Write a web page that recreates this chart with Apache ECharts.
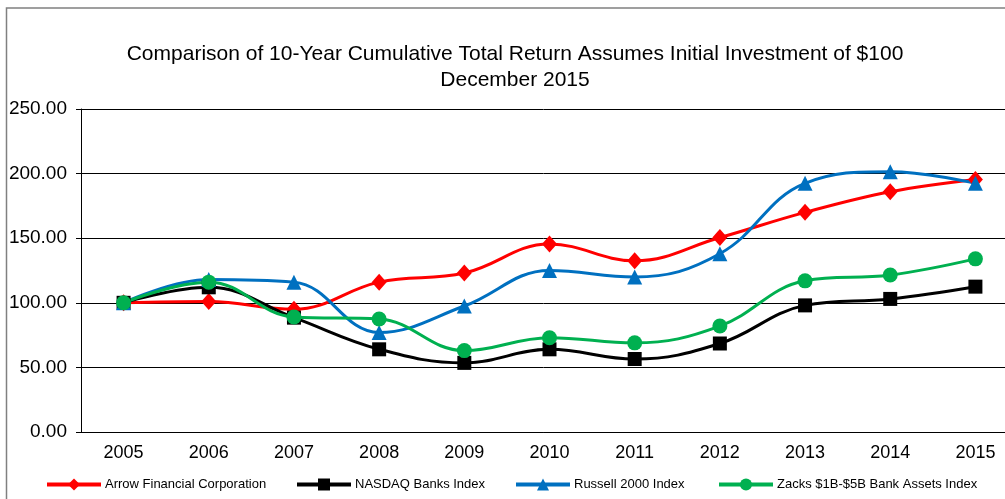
<!DOCTYPE html>
<html>
<head>
<meta charset="utf-8">
<script src="https://cdn.jsdelivr.net/npm/echarts@6/dist/echarts.min.js"></script>
<style>
  html, body { margin: 0; padding: 0; background: #fff; }
  #chart { width: 1005px; height: 499px; }
</style>
</head>
<body>
<div id="chart"></div>
<script>
// categories
const years = ['2005', '2006', '2007', '2008', '2009', '2010', '2011', '2012', '2013', '2014', '2015']

// series values
const arrowFinancial = [100, 101, 95, 116, 123, 145.5, 132.5, 150.5, 170, 186, 195.5]
const nasdaqBanks = [100, 112, 88.5, 64, 53.5, 64, 56.5, 68.5, 98, 103, 112.5]
const russell2000 = [100, 118, 116, 77, 97.5, 125, 120, 138, 192.5, 201.5, 192.5]
const zacksBank = [100, 116, 89, 87.5, 63, 73, 69, 82, 117, 121.5, 134]

// y ticks
const yMin = 0
const yMax = 250
const yStep = 50

const seriesDefs = [
  { name: 'Arrow Financial Corporation', data: arrowFinancial, color: '#FF0000', symbol: 'diamond', size: [15, 17] },
  { name: 'NASDAQ Banks Index', data: nasdaqBanks, color: '#000000', symbol: 'rect', size: 14 },
  { name: 'Russell 2000 Index', data: russell2000, color: '#0070C0', symbol: 'triangle', size: 15 },
  { name: 'Zacks $1B-$5B Bank Assets Index', data: zacksBank, color: '#00B050', symbol: 'circle', size: 15 }
]

// legend left positions, one legend per item
const legendLefts = [45, 295, 514, 717]

const chart = echarts.init(document.getElementById('chart'))

const option = {
  animation: false,
  backgroundColor: '#ffffff',
  textStyle: { fontFamily: 'Liberation Sans, Arial, sans-serif' },
  title: {
    text: 'Comparison of 10-Year Cumulative Total Return Assumes Initial Investment of $100\nDecember 2015',
    left: 510,
    textAlign: 'center',
    top: 36,
    textStyle: {
      fontSize: 21,
      fontWeight: 'normal',
      color: '#000',
      lineHeight: 26,
      fontFamily: 'Liberation Sans, Arial, sans-serif'
    }
  },
  legend: seriesDefs.map((s, i) => ({
    data: [s.name],
    left: legendLefts[i],
    top: 478,
    padding: 0,
    itemWidth: 54,
    itemHeight: 15,
    itemGap: 0,
    lineStyle: { width: 4 },
    textStyle: { fontSize: 13, color: '#000', padding: [0, 0, 0, -1], fontFamily: 'Liberation Sans, Arial, sans-serif' }
  })),
  grid: {
    left: 81,
    right: -13,
    top: 109,
    bottom: 67,
    outerBoundsMode: 'none',
    containLabel: false
  },
  xAxis: {
    type: 'category',
    data: years,
    boundaryGap: true,
    axisLine: { lineStyle: { color: '#000', width: 1 } },
    axisTick: { alignWithLabel: true, inside: true, length: 5, lineStyle: { color: '#000' } },
    axisLabel: { fontSize: 18, color: '#000', margin: 12 }
  },
  yAxis: {
    type: 'value',
    min: yMin,
    max: yMax,
    interval: yStep,
    axisLine: { show: true, lineStyle: { color: '#000', width: 1 } },
    axisTick: { show: true, length: 5, lineStyle: { color: '#000' } },
    axisLabel: {
      fontSize: 19,
      color: '#000',
      margin: 14,
      formatter: v => v.toFixed(2)
    },
    splitLine: { lineStyle: { color: '#000', width: 1 } }
  },
  graphic: [
    {
      type: 'polyline',
      shape: { points: [[1005, 8], [6.5, 8], [6.5, 499]] },
      style: { stroke: '#808080', lineWidth: 1.5, fill: null },
      silent: true
    }
  ],
  series: seriesDefs.map(s => ({
    name: s.name,
    type: 'line',
    data: s.data,
    smooth: 0.4,
    symbol: s.symbol,
    symbolSize: s.size,
    itemStyle: { color: s.color },
    lineStyle: { color: s.color, width: 3 },
    emphasis: { disabled: true }
  }))
}

chart.setOption(option)
</script>
</body>
</html>
